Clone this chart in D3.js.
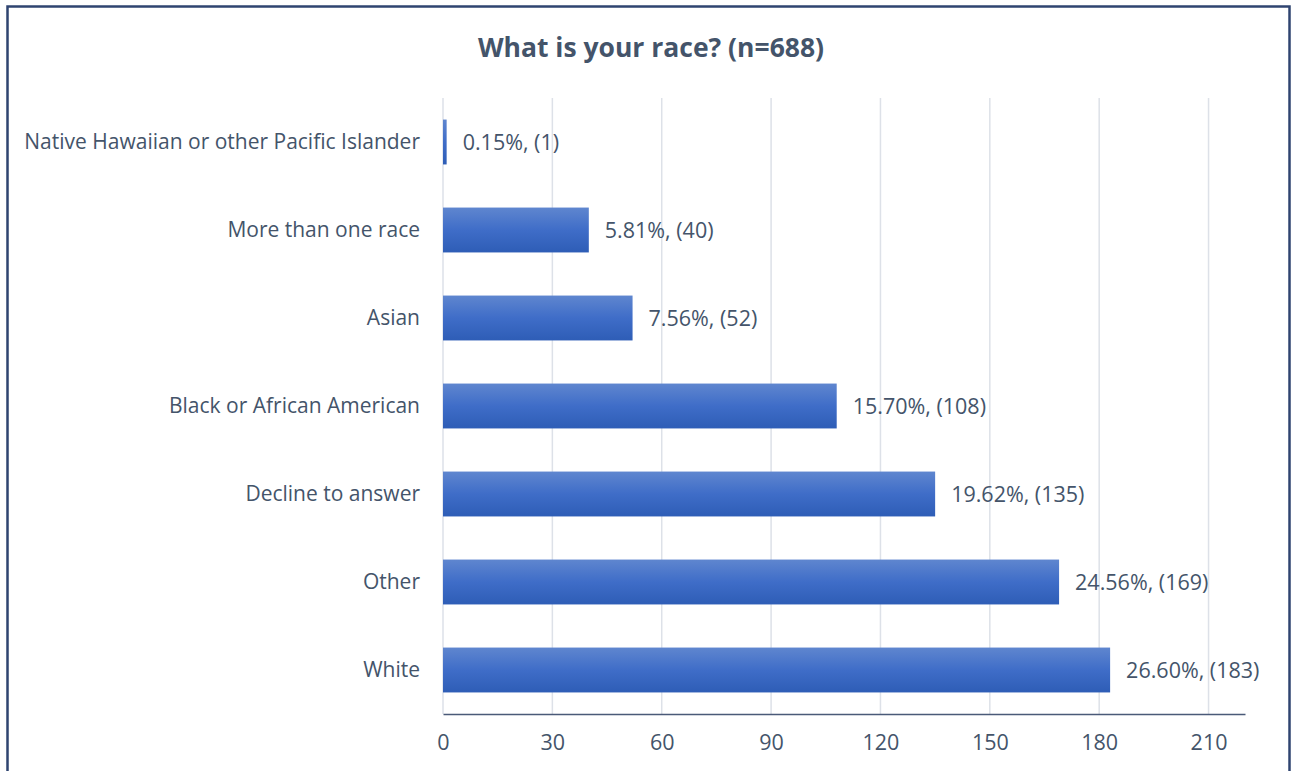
<!DOCTYPE html>
<html><head><meta charset="utf-8">
<script src="https://cdn.jsdelivr.net/npm/d3@7"></script>
<style>body{margin:0;background:#fff;} text{font-family:"Open Sans",sans-serif;}</style>
</head><body>
<svg id="c" width="1292" height="771"></svg>
<script>
const categories = ["Native Hawaiian or other Pacific Islander","More than one race","Asian","Black or African American","Decline to answer","Other","White"];
const counts = [1,40,52,108,135,169,183];
const percents = ["0.15%","5.81%","7.56%","15.70%","19.62%","24.56%","26.60%"];
const ticks = [0,30,60,90,120,150,180,210];
const title = "What is your race? (n=688)";

const svg = d3.select("#c");
const textColor = "#44546A";
svg.append("rect").attr("x",7.5).attr("y",6.5).attr("width",1282).attr("height",780)
  .attr("fill","#fff").attr("stroke","#2F4470").attr("stroke-width",2.5);

const defs = svg.append("defs");
const g = defs.append("linearGradient").attr("id","bg").attr("x1",0).attr("y1",0).attr("x2",0).attr("y2",1);
g.append("stop").attr("offset","0%").attr("stop-color","#5F86CF");
g.append("stop").attr("offset","50%").attr("stop-color","#3F6DC8");
g.append("stop").attr("offset","100%").attr("stop-color","#2E5DB6");

const x = d3.scaleLinear().domain([0,220]).range([443,1245]);
const y = d3.scaleBand().domain(categories).range([98,714]).paddingInner(0.49).paddingOuter(0.245);

svg.append("text").attr("x",651).attr("y",57).attr("text-anchor","middle")
  .attr("font-size",26.5).attr("font-weight","bold").attr("fill",textColor).text(title);

// gridlines
svg.append("g").selectAll("line").data(ticks).join("line")
  .attr("x1",d=>x(d)).attr("x2",d=>x(d)).attr("y1",98).attr("y2",714)
  .attr("stroke","#DDE1E8").attr("stroke-width",1.5);

// axis
const ax = svg.append("g").attr("transform","translate(0,714)")
  .call(d3.axisBottom(x).tickValues(ticks).tickSize(0).tickPadding(21));
ax.select(".domain").attr("stroke","#4A5A78").attr("stroke-width",1.5);
ax.selectAll("text").attr("font-size",21.5).attr("fill",textColor).attr("font-family","Open Sans");

// bars
svg.append("g").selectAll("rect").data(categories).join("rect")
  .attr("x",x(0)).attr("y",d=>y(d)).attr("height",y.bandwidth())
  .attr("width",(d,i)=>x(counts[i])-x(0)).attr("fill","url(#bg)");

// category labels
const yax = svg.append("g").attr("transform","translate(443,0)")
  .call(d3.axisLeft(y).tickSize(0).tickPadding(23));
yax.select(".domain").remove();
yax.selectAll("text").attr("font-size",21).attr("fill",textColor).attr("font-family","Open Sans");

// value labels
svg.append("g").selectAll("text").data(categories).join("text")
  .attr("x",(d,i)=>x(counts[i])+16).attr("y",d=>y(d)+y.bandwidth()/2).attr("dy","0.35em")
  .attr("font-size",21.5).attr("fill",textColor).text((d,i)=>`${percents[i]}, (${counts[i]})`);
</script>
</body></html>
